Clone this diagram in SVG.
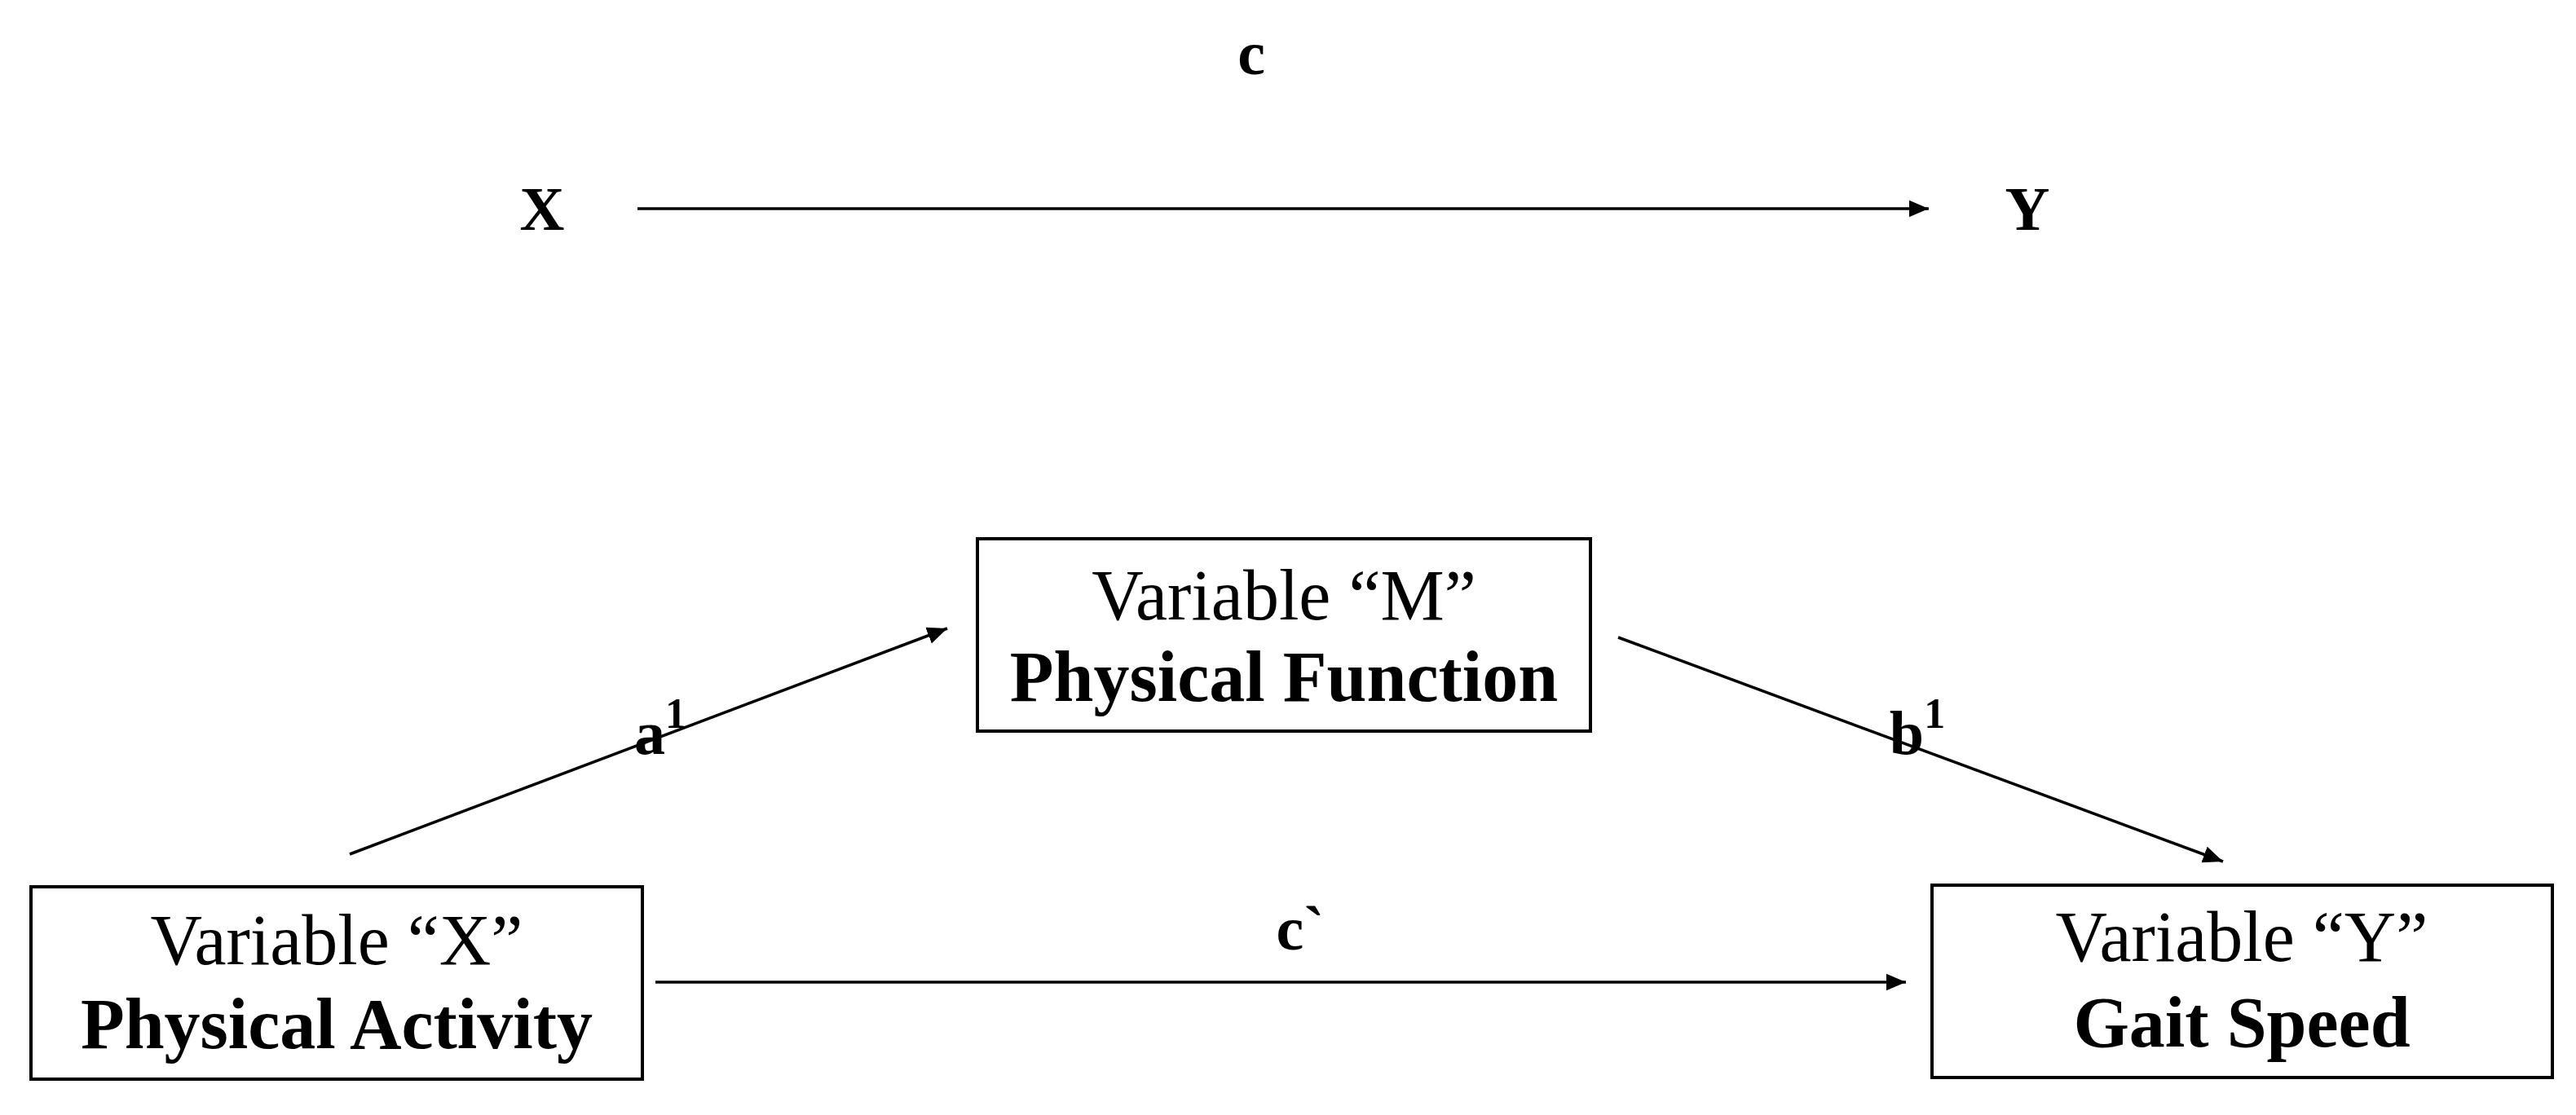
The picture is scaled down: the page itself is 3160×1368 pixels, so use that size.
<svg xmlns="http://www.w3.org/2000/svg" width="3160" height="1368" viewBox="0 0 3160 1368">
<style>
text{font-family:"Liberation Serif","Times New Roman",serif;fill:#000;text-anchor:middle}
.n{font-size:88px}
.b{font-size:88px;font-weight:bold}
.l{font-size:76px;font-weight:bold}
.box{fill:#fff;stroke:#000;stroke-width:4}
line{stroke:#000;stroke-width:3.5}
</style>
<defs><marker id="ah" markerWidth="8" markerHeight="8" refX="7" refY="4" orient="auto" markerUnits="strokeWidth"><path d="M0,1 L7,4 L0,7 Z" fill="#000"/></marker></defs>
<rect width="3160" height="1368" fill="#fff"/>
<g id="top-x"><text class="l" x="665" y="282">X</text></g>
<g id="top-y"><text class="l" x="2487" y="282">Y</text></g>
<g id="node-m"><rect class="box" x="1199" y="661" width="752" height="236"/><text class="n" x="1575" y="760">Variable “M”</text><text class="b" x="1575" y="860">Physical Function</text></g>
<g id="node-x"><rect class="box" x="38" y="1088" width="750" height="236"/><text class="n" x="413" y="1183">Variable “X”</text><text class="b" x="413" y="1286">Physical Activity</text></g>
<g id="node-y"><rect class="box" x="2370" y="1086" width="761" height="236"/><text class="n" x="2750" y="1179">Variable “Y”</text><text class="b" x="2750" y="1284">Gait Speed</text></g>
<g id="connectors">
<line x1="782" y1="256" x2="2366" y2="256" marker-end="url(#ah)"/>
<line x1="429" y1="1048" x2="1162" y2="771" marker-end="url(#ah)"/>
<line x1="1985" y1="782" x2="2727" y2="1057" marker-end="url(#ah)"/>
<line x1="804" y1="1205" x2="2338" y2="1205" marker-end="url(#ah)"/>
<text class="l" x="1535" y="91">c</text>
<text class="l" x="810" y="925">a<tspan font-size="52" dy="-32">1</tspan></text>
<text class="l" x="2352" y="925">b<tspan font-size="52" dy="-32">1</tspan></text>
<text class="l" x="1595" y="1165">c`</text>
</g>
</svg>
